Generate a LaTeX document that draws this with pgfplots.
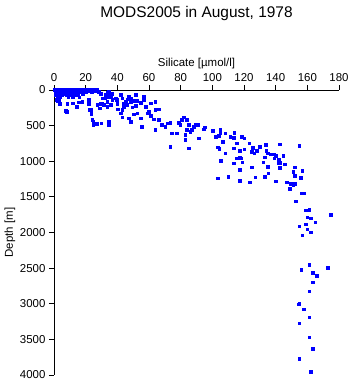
\documentclass[border=0pt]{standalone}
\usepackage{fontspec}
\setmainfont{Liberation Sans}
\usepackage{pgfplots}
\pgfplotsset{compat=1.18}
\begin{document}
\begin{tikzpicture}
\begin{axis}[
  scale only axis, width=285bp, height=285bp,
  xmin=0, xmax=180, ymin=0, ymax=4000,
  y dir=reverse,
  axis x line=top, axis y line=left,
  axis line style={-, line width=0.8bp},
  xtick={0,20,...,180}, ytick={0,500,...,4000},
  tick align=outside, major tick length=5bp,
  tick style={line width=0.8bp, black},
  /pgf/number format/assume math mode=true,
  /pgf/number format/1000 sep={},
  tick label style={font=\fontsize{11.5}{13}\selectfont},
  xlabel={Silicate [µmol/l]}, ylabel={Depth [m]},
  xlabel style={yshift=-2bp},
  ylabel shift=-2bp,
  label style={font=\fontsize{11.5}{13}\selectfont},
  title={MODS2005 in August, 1978},
  title style={font=\fontsize{15.5}{17}\selectfont, at={(0.5,1)}, anchor=center, yshift=71bp},
  clip=false,
]
\addplot[only marks, mark=square*, mark size=1.35bp, color={rgb,255:red,0;green,0;blue,255}] coordinates {
(0.5,0)(1.5,0)(2.5,0)(3.5,0)(4.5,0)(5.5,0)(6.5,0)(7.5,0)(8.5,0)(9.5,0)(10.5,0)(11.5,0)(12.5,0)(13.5,0)(15,0)(16.5,0)(18,0)(19.5,0)(21,0)(23,0)(25,0)(27.3,0)
(1,10)(3,10)(5,10)(7,10)(9,10)(11,10)(13,10)(15,10)(17,10)(19,10)(22,10)(26,10)
(1,20)(2,20)(4,20)(6,20)(8,20)(10,20)(12,20)(14,20)(16,20)(18,20)(20,20)(24,20)(28.3,23)(34.6,24)
(1,30)(3,30)(5,30)(7,30)(9,30)(11,30)(14,30)(17,30)(20,30)(33.6,37)
(1,50)(2,50)(4,50)(6,50)(8,50)(10,50)(12,50)(15,50)(18,50)(29.4,47)(36.8,47)
(1,75)(3,75)(5,75)(8,75)(10,75)(12,75)(14,75)(32.5,70)(42.0,70)(51.4,70)
(2,100)(4,100)(9,100)(12,100)(16,100)(34.6,93)(47.2,93)(56.7,93)(35.7,84)
(1.7,140)(3.1,150)(7.4,290)(14.3,234)(17.9,164)(23.1,280)(23.5,327)(22.0,140)(27.3,210)(29.0,257)(30.5,187)(31.9,117)(33.6,234)(24.2,421)
(2.5,150)(3.6,196)(8.0,304)(8.4,196)(11.6,187)(14.7,243)(15.7,173)(17.9,173)(22.0,196)(22.7,280)(23.5,341)
(24.8,444)(24.8,491)(26.9,477)(29.8,467)(34.6,444)(34.6,491)(31.5,210)(29.4,196)(33.6,164)(35.7,210)
(39.5,140)(40.3,271)(43.0,280)(42.0,327)(43.0,383)(44.1,234)(45.1,164)(48.3,164)(46.2,210)(49.3,243)(51.4,224)
(52.5,327)(50.3,341)(47.2,397)(48.3,444)(54.6,397)(55.6,514)(57.7,234)(58.8,327)(60.9,364)(59.8,304)(64.0,280)
(64.0,164)(62.9,411)(66.1,421)(64.0,561)(66.1,271)(68.2,491)(70.3,514)(71.4,467)(73.4,458)(74.5,607)(73.4,794)
(77.7,607)(78.7,458)(79.7,491)(80.8,421)(81.8,383)(83.9,421)(85.0,491)(82.9,631)(83.9,561)(86.0,584)(87.1,561)
(88.1,514)(89.2,491)(90.6,491)(82.9,701)(85.0,818)(91.3,678)
(30.5,117)(36.8,140)(38.8,117)(43.0,117)(46.2,131)(48.3,117)(50.3,150)(52.5,150)(54.6,177)(56.7,140)(60.9,187)(44.1,187)(39.9,196)
(94.4,551)(95.0,523)(100.1,575)(104.9,561)(104.9,607)(103.8,640)(102.2,654)(106.4,724)(108.1,607)(113.9,598)(113.3,668)
(111.2,654)(118.6,654)(120.2,678)(115.2,748)(123.2,748)(103.2,804)(104.3,827)(113.3,818)(108.2,888)(105.3,995)(117.1,855)
(120.2,832)(125.5,808)(124.8,864)(128.0,855)(126.5,888)(130.1,794)(133.9,771)(134.1,851)(134.9,888)(137.0,902)(139.1,902)
(140.2,925)(142.7,762)(142.0,981)(144.7,921)(139.1,958)(133.2,944)(132.2,1014)(142.7,1019)(141.6,1028)(124.8,1084)
(117.1,949)(118.1,958)(115.4,958)(113.3,1028)(118.9,1014)(117.1,1122)(134.9,1075)(135.3,1168)(133.2,1215)(127.1,1224)
(110.1,1215)(103.2,1238)(152.1,1084)(151.0,1145)(156.7,1136)(152.1,1201)(155.9,1229)(154.8,781)(142.7,1089)(145.8,1042)
(117.1,1276)(123.8,1294)(140.1,1281)(146.9,1294)(149.4,1318)(151.0,1332)(152.1,1318)(149.0,1383)(156.3,1449)(157.8,1449)
(152.7,1561)(158.8,1687)(161.1,1682)(159.9,1785)(162.0,1799)(174.8,1748)(164.9,1855)(159.0,1883)(154.8,1911)(159.9,1953)
(162.0,1995)(156.7,2037)(161.1,2454)(156.1,2524)(172.9,2496)(163.6,2566)(166.1,2603)(163.6,2697)(161.1,2822)(154.8,3000)
(154.2,3005)(157.8,3075)(161.1,3187)(154.8,3271)(161.1,3468)(163.6,3631)(154.8,3776)(162.0,3958)
};
\end{axis}
\pgfresetboundingbox
\path[use as bounding box] (-54bp,-9bp) rectangle (297bp,375bp);
\end{tikzpicture}
\end{document}
